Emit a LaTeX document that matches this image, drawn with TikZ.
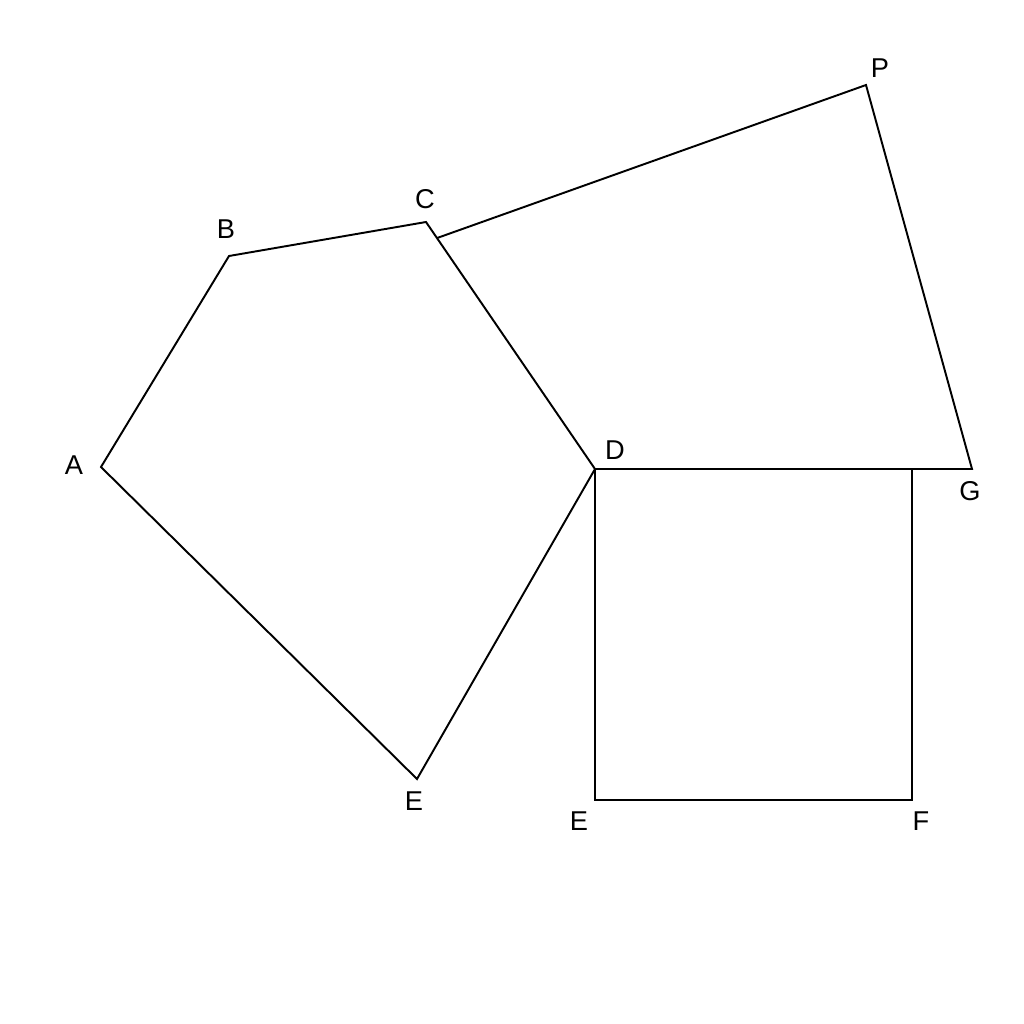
\documentclass[tikz,border=0pt]{standalone}
\usepackage{fontspec}
\setmainfont{Liberation Sans}
\usetikzlibrary{calc}
\begin{document}
\begin{tikzpicture}[x=0.02cm,y=-0.02cm,
  edge/.style={line width=1.1pt,line join=miter},
  lbl/.style={inner sep=0pt,font=\fontsize{15.5}{17}\selectfont}]
\useasboundingbox (0,0) rectangle (1024,1024);
\fill[white] (0,0) rectangle (1024,1024);
\coordinate (A) at (101,467);
\coordinate (B) at (229,256);
\coordinate (C) at (426,222);
\coordinate (D) at (595,469);
\coordinate (E) at (417,779);
\coordinate (Q) at ($(C)!0.065!(D)$);
\coordinate (P) at (866,85);
\coordinate (G) at (972,469);
\coordinate (H) at (912,469);
\coordinate (F) at (912,800);
\coordinate (E2) at (595,800);
\draw[edge] (A) -- (B) -- (C) -- (D) -- (E) -- cycle;
\draw[edge] (Q) -- (P) -- (G) -- (D);
\draw[edge] (D) -- (E2) -- (F) -- (H);
\node[lbl] (lA) at (74,465) {A};
\node[lbl] (lB) at (226,229) {B};
\node[lbl] (lC) at (425,199) {C};
\node[lbl] (lD) at (615,450) {D};
\node[lbl] (lE) at (414,801) {E};
\node[lbl] (lG) at (970,491) {G};
\node[lbl] (lP) at (880,68) {P};
\node[lbl] (lE2) at (579,821) {E};
\node[lbl] (lF) at (921,821) {F};
\end{tikzpicture}
\end{document}
